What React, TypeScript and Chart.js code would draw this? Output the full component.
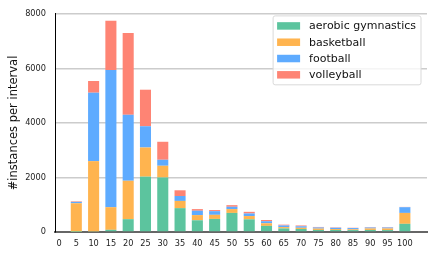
import React, { useEffect, useRef } from 'react';
import { Chart, registerables } from 'chart.js';

Chart.register(...registerables);

const intervals = [5, 10, 15, 20, 25, 30, 35, 40, 45, 50, 55, 60, 65, 70, 75, 80, 85, 90, 95, 100];
const xTicks = [0, 5, 10, 15, 20, 25, 30, 35, 40, 45, 50, 55, 60, 65, 70, 75, 80, 85, 90, 95, 100];
const seriesNames = ['aerobic gymnastics', 'basketball', 'football', 'volleyball'];
const seriesColors = ['#5cc49e', '#ffb44f', '#5eabff', '#fe8474'];

const aerobic = [5, 20, 80, 470, 2030, 2000, 875, 430, 480, 700, 465, 225, 130, 110, 75, 75, 70, 75, 70, 300];
const basketball = [1050, 2580, 830, 1410, 1070, 430, 265, 190, 150, 140, 120, 95, 50, 45, 50, 35, 30, 55, 60, 400];
const football = [50, 2510, 5030, 2420, 780, 220, 180, 160, 135, 85, 95, 75, 60, 55, 40, 45, 45, 35, 35, 210];
const volleyball = [20, 430, 1810, 3000, 1340, 660, 210, 60, 40, 60, 60, 45, 30, 30, 20, 15, 10, 15, 15, 10];

const seriesValues = [aerobic, basketball, football, volleyball];

const FONT = '"DejaVu Sans", sans-serif';

const boxLegend = {
  id: 'boxLegend',
  afterDraw(chart: any) {
    const { ctx, chartArea } = chart;
    const fs = 11;
    ctx.save();
    ctx.font = `${fs}px ${FONT}`;
    const items = chart.data.datasets.map((d: any) => ({ label: d.label, color: d.backgroundColor }));
    const maxW = Math.max(...items.map((i: any) => ctx.measureText(i.label).width));
    const pad = 4;
    const handleW = 23;
    const handleH = 7.5;
    const gap = 9;
    const rowH = 16.3;
    const boxW = pad + handleW + gap + maxW + 5;
    const boxH = 20 + rowH * (items.length - 1);
    const right = chartArea.right - 6;
    const left = right - boxW;
    const top = chartArea.top + 2;
    const r = 2;
    ctx.beginPath();
    ctx.moveTo(left + r, top);
    ctx.lineTo(left + boxW - r, top);
    ctx.arcTo(left + boxW, top, left + boxW, top + r, r);
    ctx.lineTo(left + boxW, top + boxH - r);
    ctx.arcTo(left + boxW, top + boxH, left + boxW - r, top + boxH, r);
    ctx.lineTo(left + r, top + boxH);
    ctx.arcTo(left, top + boxH, left, top + boxH - r, r);
    ctx.lineTo(left, top + r);
    ctx.arcTo(left, top, left + r, top, r);
    ctx.closePath();
    ctx.fillStyle = 'rgba(255,255,255,0.8)';
    ctx.fill();
    ctx.strokeStyle = '#d9d9d9';
    ctx.lineWidth = 1;
    ctx.stroke();
    ctx.textBaseline = 'middle';
    ctx.textAlign = 'left';
    items.forEach((it: any, i: number) => {
      const cy = top + 10 + i * rowH;
      ctx.fillStyle = it.color;
      ctx.fillRect(left + pad, cy - handleH / 2, handleW, handleH);
      ctx.fillStyle = '#111';
      ctx.fillText(it.label, left + pad + handleW + gap, cy + 0.5);
    });
    ctx.restore();
  },
};

export default function App() {
  const ref = useRef<HTMLCanvasElement | null>(null);

  useEffect(() => {
    document.body.style.margin = '0';
    if (!ref.current) return;
    Chart.defaults.font.family = FONT;
    const chart = new Chart(ref.current, {
      type: 'bar',
      data: {
        datasets: seriesNames.map((name, si) => ({
          label: name,
          data: intervals.map((x, i) => ({ x, y: seriesValues[si][i] })),
          backgroundColor: seriesColors[si],
          borderWidth: 0,
          categoryPercentage: 1,
          barPercentage: 0.64,
        })),
      },
      options: {
        animation: false,
        responsive: true,
        maintainAspectRatio: false,
        layout: { padding: { top: 12, right: 9, left: 0, bottom: 0 } },
        plugins: {
          legend: { display: false },
          tooltip: { enabled: false },
        },
        scales: {
          x: {
            type: 'linear',
            min: -1.16,
            max: 106.4,
            stacked: true,
            offset: false,
            z: 1,
            grid: { display: false, drawTicks: false, offset: false },
            border: { display: true, color: '#666666', width: 2 },
            afterBuildTicks: (s: any) => {
              s.ticks = xTicks.map((v) => ({ value: v }));
            },
            afterFit: (s: any) => {
              s.height = 26;
            },
            ticks: {
              autoSkip: false,
              maxRotation: 0,
              padding: 7,
              color: '#222',
              font: { size: 8.2 },
              callback: (v: any) => String(v),
            },
          },
          y: {
            stacked: true,
            min: 0,
            max: 8000,
            grid: { color: '#cccccc', lineWidth: 1.5, drawTicks: false },
            border: { display: true, color: '#000000', width: 1 },
            afterFit: (s: any) => {
              s.width = 55;
            },
            ticks: {
              stepSize: 2000,
              padding: 9,
              color: '#222',
              font: { size: 8.2 },
              callback: (v: any) => String(v),
            },
            title: {
              display: true,
              text: '#instances per interval',
              color: '#111',
              font: { size: 11.5 },
              padding: { top: 7, bottom: 0 },
            },
          },
        },
      },
      plugins: [boxLegend],
    } as any);
    return () => chart.destroy();
  }, []);

  return (
    <div style={{ width: 436, height: 258, position: 'relative' }}>
      <canvas ref={ref} />
    </div>
  );
}
